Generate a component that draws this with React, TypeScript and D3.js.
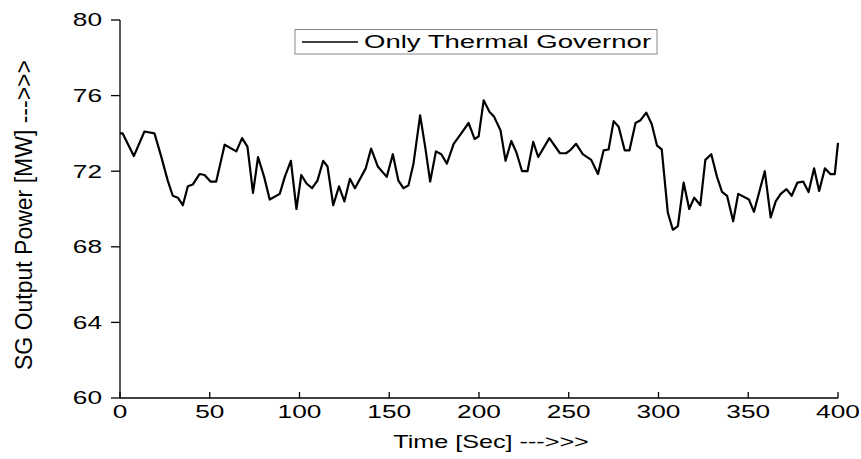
import React from "react";
import * as d3 from "d3";

const times = [0, 1.5, 7.7, 13.6, 19.2, 22.9, 26.6, 29.4, 32.2, 35, 37.8, 40.6, 44.3, 47.1, 50.4, 53.6, 58.3, 64.8, 68, 71, 74.1, 76.9, 80.3, 83.4, 89, 91.8, 95.2, 98.3, 101, 103.9, 107, 110, 113.2, 115.6, 118.8, 122, 125, 128.1, 130.9, 136.9, 139.9, 143.6, 148.6, 152, 155.1, 157.9, 160.7, 163.5, 167.2, 170, 172.8, 176, 179, 182.1, 185.9, 190.5, 194.2, 197.6, 199.8, 202.6, 205.8, 208.3, 212, 214.8, 218, 220.8, 224, 227, 230.2, 233, 239.2, 245.1, 248.5, 250.7, 254.1, 257.8, 262.5, 266.3, 269.4, 272.2, 275, 277.8, 281.2, 283.8, 287.2, 290, 293.2, 296.2, 299.2, 301.8, 305.2, 308, 310.8, 314, 317.1, 319.9, 323.3, 326.1, 329.4, 332.6, 335.4, 338.2, 341.6, 344.4, 350.4, 353.2, 359.2, 362.5, 365.3, 368.1, 371.3, 374.2, 377.4, 380.6, 383.6, 386.7, 389.5, 392.7, 395.7, 398.2, 400];
const power = [74.0, 74.0, 72.8, 74.1, 74.0, 72.8, 71.5, 70.7, 70.6, 70.2, 71.2, 71.3, 71.85, 71.8, 71.45, 71.45, 73.4, 73.05, 73.75, 73.3, 70.85, 72.75, 71.7, 70.5, 70.8, 71.7, 72.55, 70.0, 71.8, 71.35, 71.1, 71.5, 72.55, 72.25, 70.2, 71.2, 70.4, 71.6, 71.1, 72.15, 73.2, 72.25, 71.7, 72.9, 71.5, 71.1, 71.25, 72.4, 74.95, 73.3, 71.45, 73.05, 72.9, 72.4, 73.45, 74.05, 74.55, 73.7, 73.85, 75.75, 75.15, 74.9, 74.15, 72.55, 73.6, 73.0, 72.0, 72.0, 73.55, 72.75, 73.75, 72.95, 72.95, 73.1, 73.45, 72.9, 72.6, 71.85, 73.1, 73.15, 74.65, 74.35, 73.1, 73.1, 74.55, 74.7, 75.1, 74.5, 73.35, 73.15, 69.8, 68.9, 69.1, 71.4, 70.0, 70.6, 70.2, 72.6, 72.9, 71.7, 70.9, 70.7, 69.35, 70.8, 70.5, 69.85, 72.0, 69.55, 70.4, 70.8, 71.05, 70.7, 71.4, 71.45, 70.9, 72.15, 70.95, 72.15, 71.85, 71.85, 73.5];

const xTicks = [0, 50, 100, 150, 200, 250, 300, 350, 400];
const yTicks = [60, 64, 68, 72, 76, 80];
const seriesName = "Only Thermal Governor";
const xTitle = "Time [Sec] --->>>";
const yTitle = "SG Output Power [MW] --->>>";

export default function App() {
  const W = 861, H = 459;
  const x0 = 120, x1 = 838, yTop = 20, yBot = 398;
  const x = d3.scaleLinear().domain([0, 400]).range([x0, x1]);
  const y = d3.scaleLinear().domain([60, 80]).range([yBot, yTop]);
  const pts: [number, number][] = times.map((t, i) => [t, power[i]]);
  const line = d3.line<[number, number]>().x(d => x(d[0])).y(d => y(d[1]));
  const font = "'Liberation Sans', Arial, sans-serif";
  const sx = 1.5;
  return (
    <svg width={W} height={H} style={{ position: "absolute", left: 0, top: 0, background: "#fff" }} fontFamily={font}>
      <rect x={0} y={0} width={W} height={H} fill="#fff" />
      {/* axes */}
      <line x1={x0} x2={x0} y1={yTop} y2={yBot} stroke="#000" strokeWidth={1.3} />
      <line x1={x0} x2={x1} y1={yBot} y2={yBot} stroke="#000" strokeWidth={1.3} />
      {yTicks.map(t => (
        <g key={"y" + t}>
          <line x1={x0 - 9} x2={x0} y1={y(t)} y2={y(t)} stroke="#000" strokeWidth={1.3} />
          <text transform={`translate(${x0 - 18},${y(t)}) scale(${sx},1)`} dy="0.36em" textAnchor="end" fontSize={17.5} fill="#000">{t}</text>
        </g>
      ))}
      {xTicks.map(t => (
        <g key={"x" + t}>
          <line x1={x(t)} x2={x(t)} y1={yBot - 6} y2={yBot} stroke="#000" strokeWidth={1.3} />
          <text transform={`translate(${x(t)},${yBot + 20}) scale(${sx},1)`} textAnchor="middle" fontSize={17.5} fill="#000">{t}</text>
        </g>
      ))}
      <text transform={`translate(491,448) scale(1.4,1)`} textAnchor="middle" fontSize={18} fill="#000">{xTitle}</text>
      <text transform={`translate(32,215) rotate(-90)`} textAnchor="middle" fontSize={23} fill="#000">{yTitle}</text>
      {/* data line */}
      <path d={line(pts) || ""} fill="none" stroke="#000" strokeWidth={2.2} strokeLinejoin="round" />
      {/* legend */}
      <rect x={295} y={29.5} width={362} height={24.5} fill="#fff" stroke="#888" strokeWidth={1} />
      <line x1={302} x2={358} y1={42} y2={42} stroke="#000" strokeWidth={1.6} />
      <text transform={`translate(364,42) scale(1.53,1)`} dy="0.36em" fontSize={18} fill="#000">{seriesName}</text>
    </svg>
  );
}
